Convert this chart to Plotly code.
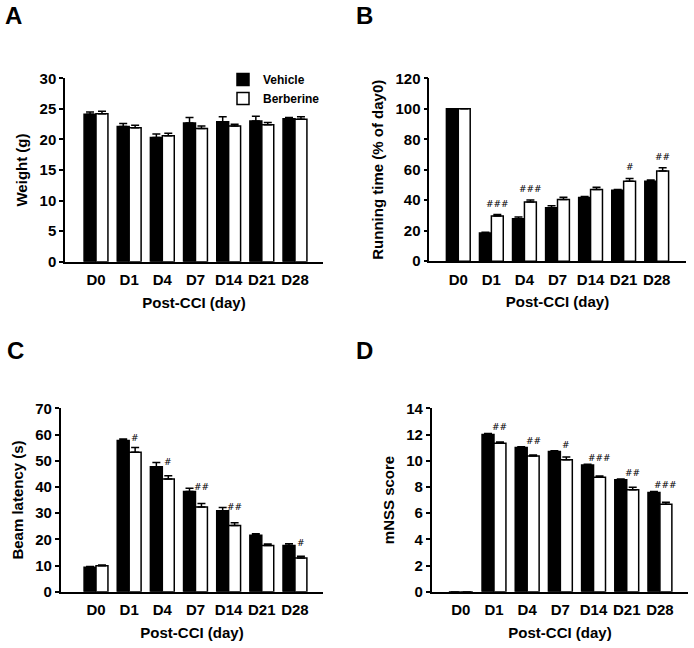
import plotly.graph_objects as go

# ---------------- data ----------------
days = ["D0", "D1", "D4", "D7", "D14", "D21", "D28"]

weight_vehicle = [24.1, 22.1, 20.3, 22.7, 22.9, 23.0, 23.4]
weight_vehicle_err = [0.4, 0.5, 0.6, 0.9, 0.8, 0.8, 0.2]
weight_berberine = [24.2, 21.9, 20.6, 21.8, 22.2, 22.4, 23.3]
weight_berberine_err = [0.4, 0.4, 0.4, 0.4, 0.3, 0.35, 0.4]

run_vehicle = [100, 18.5, 27.8, 35.0, 41.8, 46.5, 52.5]
run_vehicle_err = [0, 0.5, 1.2, 1.3, 0.7, 0.6, 0.8]
run_berberine = [100, 29.6, 38.9, 40.5, 47.0, 52.5, 59.1]
run_berberine_err = [0, 1.0, 1.3, 1.5, 1.5, 1.8, 2.2]
run_sig = ["", "###", "###", "", "", "#", "##"]

beam_vehicle = [9.3, 57.7, 47.7, 38.2, 30.9, 21.5, 17.6]
beam_vehicle_err = [0.3, 0.6, 1.6, 1.3, 1.2, 0.6, 0.7]
beam_berberine = [9.9, 53.2, 43.0, 32.3, 25.3, 17.6, 12.9]
beam_berberine_err = [0.3, 1.8, 1.3, 1.4, 1.0, 0.6, 0.6]
beam_sig = ["", "#", "#", "##", "##", "", "#"]

mnss_vehicle = [0, 12.0, 11.0, 10.7, 9.67, 8.55, 7.58]
mnss_vehicle_err = [0, 0.08, 0.06, 0.06, 0.06, 0.06, 0.07]
mnss_berberine = [0, 11.33, 10.36, 10.08, 8.73, 7.79, 6.67]
mnss_berberine_err = [0, 0.1, 0.08, 0.2, 0.1, 0.18, 0.15]
mnss_sig = ["", "##", "##", "#", "###", "##", "###"]

series_names = ["Vehicle", "Berberine"]
x_title = "Post-CCI (day)"

# ---------------- figure ----------------
W, H = 694, 648
FONT = "Arial, 'Liberation Sans', sans-serif"

panels = [
    dict(letter="A", ax="", ytitle="Weight (g)", veh=weight_vehicle, veh_err=weight_vehicle_err,
         ber=weight_berberine, ber_err=weight_berberine_err, sig=None,
         xdom=(65, 323), ydom=(78.3, 261.7), xr=(-0.935, 6.845), yr=(0, 30), dt=5, sigshift=0,
         lx=3, ly=0),
    dict(letter="B", ax="2", ytitle="Running time (% of day0)", veh=run_vehicle, veh_err=run_vehicle_err,
         ber=run_berberine, ber_err=run_berberine_err, sig=run_sig,
         xdom=(429.3, 685.7), ydom=(78.3, 261.2), xr=(-0.877, 6.877), yr=(0, 120), dt=20, sigshift=11,
         lx=354, ly=0),
    dict(letter="C", ax="3", ytitle="Beam latency (s)", veh=beam_vehicle, veh_err=beam_vehicle_err,
         ber=beam_berberine, ber_err=beam_berberine_err, sig=beam_sig,
         xdom=(60.7, 323.3), ydom=(408.3, 591.7), xr=(-1.065, 6.855), yr=(0, 70), dt=10, sigshift=1,
         lx=5, ly=335),
    dict(letter="D", ax="4", ytitle="mNSS score", veh=mnss_vehicle, veh_err=mnss_vehicle_err,
         ber=mnss_berberine, ber_err=mnss_berberine_err, sig=mnss_sig,
         xdom=(431.7, 688.3), ydom=(408.3, 591.7), xr=(-0.877, 6.855), yr=(0, 14), dt=2, sigshift=6,
         lx=354, ly=335),
]

fig = go.Figure()
annotations = []
layout_axes = {}

for k, p in enumerate(panels):
    xa = "x" + p["ax"]
    ya = "y" + p["ax"]
    for j, (vals, errs, fill) in enumerate([(p["veh"], p["veh_err"], "black"),
                                             (p["ber"], p["ber_err"], "white")]):
        fig.add_trace(go.Bar(
            x=days, y=vals, name=series_names[j], xaxis=xa, yaxis=ya,
            marker=dict(color=fill, line=dict(color="black", width=1.5)),
            error_y=dict(type="data", symmetric=False, array=errs, arrayminus=[0] * len(errs),
                         color="black", thickness=1.5, width=4),
            showlegend=(k == 0), legendgroup=series_names[j],
        ))
    xkey = "xaxis" + p["ax"]
    ykey = "yaxis" + p["ax"]
    layout_axes[xkey] = dict(
        domain=[p["xdom"][0] / W, p["xdom"][1] / W], anchor=ya, type="category",
        range=list(p["xr"]), showline=True, linecolor="black", linewidth=1.5,
        ticks="outside", ticklen=4, tickcolor="rgba(0,0,0,0)", showgrid=False, zeroline=False,
        tickfont=dict(family=FONT, size=15, color="black", weight="bold"),
        title=dict(text=x_title, font=dict(family=FONT, size=15, color="black", weight="bold"),
                   standoff=10),
        automargin=False, fixedrange=True,
    )
    layout_axes[ykey] = dict(
        domain=[1 - p["ydom"][1] / H, 1 - p["ydom"][0] / H], anchor=xa,
        range=list(p["yr"]), dtick=p["dt"], tick0=0, showline=True, linecolor="black", linewidth=1.5,
        ticks="outside", ticklen=4, tickwidth=1.5, tickcolor="black", showgrid=False, zeroline=False,
        tickfont=dict(family=FONT, size=15, color="black", weight="bold"),
        title=dict(text=p["ytitle"], font=dict(family=FONT, size=15, color="black", weight="bold"),
                   standoff=8),
        automargin=False, fixedrange=True,
    )
    annotations.append(dict(
        text=p["letter"], xref="paper", yref="paper", x=p["lx"] / W, y=1 - p["ly"] / H,
        xanchor="left", yanchor="top", showarrow=False,
        font=dict(family=FONT, size=24, color="black", weight="bold"),
    ))
    if p["sig"]:
        for i, s in enumerate(p["sig"]):
            if not s:
                continue
            top = max(p["veh"][i] + p["veh_err"][i], p["ber"][i] + p["ber_err"][i])
            annotations.append(dict(
                text=s, xref=xa, yref=ya, x=days[i], y=top, xshift=6, yshift=p["sigshift"],
                xanchor="center", yanchor="middle", showarrow=False,
                font=dict(family="DejaVu Sans", size=9, color="black"),
            ))

fig.update_layout(
    width=W, height=H, autosize=False,
    margin=dict(l=0, r=0, t=0, b=0, pad=0, autoexpand=False),
    paper_bgcolor="white", plot_bgcolor="white",
    barmode="group", bargap=0.28, bargroupgap=0,
    showlegend=True,
    legend=dict(x=223 / W, y=1 - 65 / H, xanchor="left", yanchor="top",
                font=dict(family=FONT, size=12, color="black", weight="bold"),
                bgcolor="rgba(0,0,0,0)", tracegroupgap=0, itemclick=False, itemdoubleclick=False),
    annotations=annotations,
    **layout_axes,
)

fig.write_html(
    "out.html",
    config={"displayModeBar": False, "responsive": False},
    post_script="document.body.style.margin='0';document.body.style.overflow='hidden';",
)
